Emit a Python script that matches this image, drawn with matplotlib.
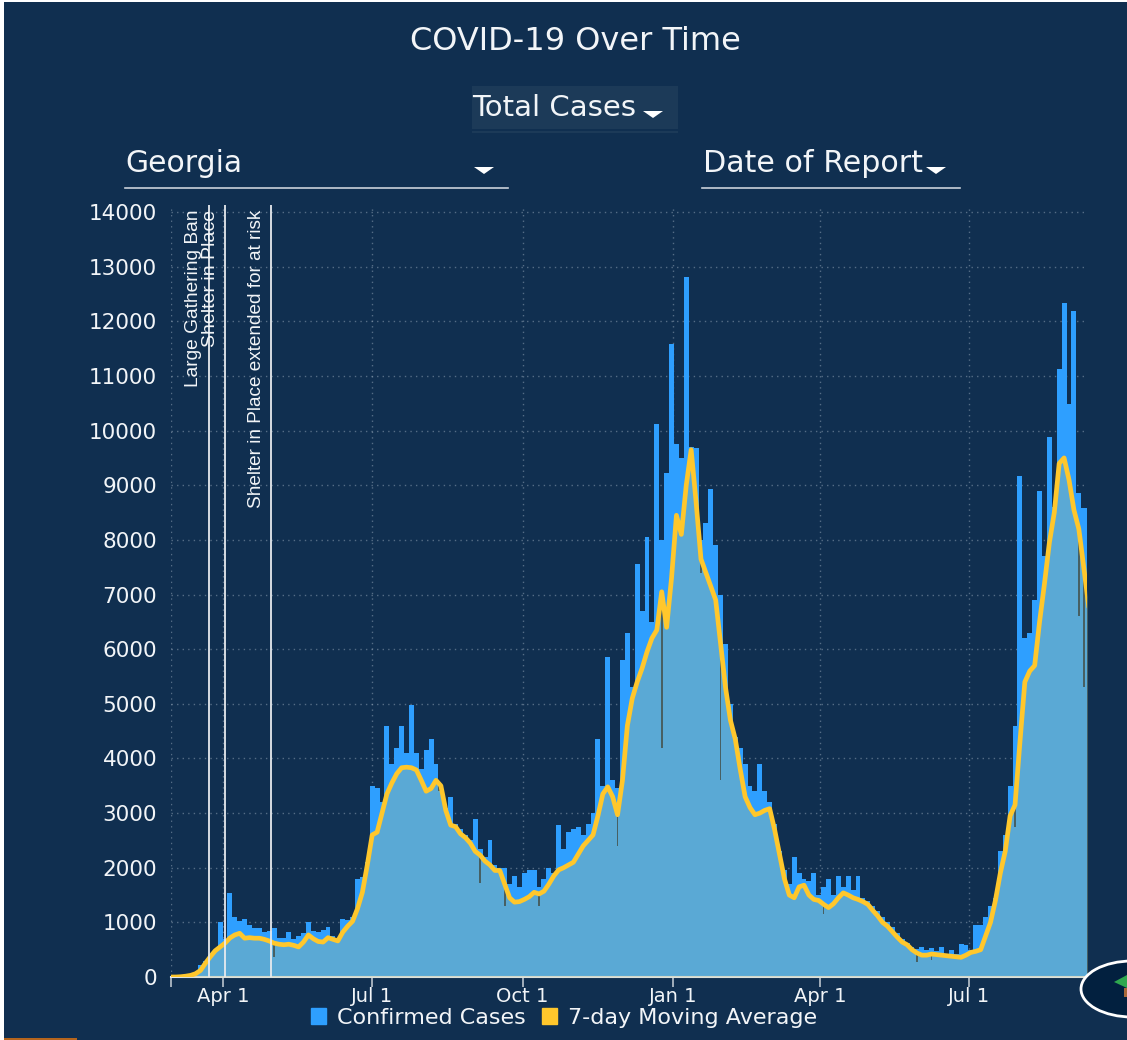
"""COVID-19 Over Time: Georgia, casos confirmados y media movil de 7 dias."""
import matplotlib
matplotlib.use("Agg")
import matplotlib.pyplot as plt
import pandas as pd
from matplotlib.patches import Ellipse, Patch, Polygon, Rectangle

W, H = 1127, 1040
BG = "#102F50"
TXT = "#F2F5F8"

# valores, un dato cada 3 dias desde 2020-02-29
cases = [0, 0, 5, 20, 40, 80, 220, 300, 400, 490, 1000, 700, 1540, 1100, 1020, 1060,
         950, 900, 900, 830, 850, 900, 710, 720, 830, 700, 750, 800, 1000, 850, 830, 860,
         910, 750, 700, 1060, 1050, 1100, 1800, 1830, 2100, 3500, 3450, 3200, 4600, 3900, 4200, 4600,
         4100, 4980, 4100, 3800, 4150, 4350, 3900, 3400, 3100, 3300, 2800, 2700, 2600, 2500, 2900, 2350,
         2200, 2500, 2050, 2000, 2000, 1700, 1850, 1650, 1900, 1950, 1950, 1650, 1800, 2000, 1900, 2780,
         2350, 2650, 2700, 2750, 2600, 2800, 3000, 4350, 3500, 5850, 3600, 3450, 5800, 6300, 5300, 7560,
         6700, 8050, 6500, 10130, 8000, 9230, 11590, 9760, 9500, 12820, 9700, 9680, 8000, 8300, 8930, 7900,
         7000, 6100, 5000, 4400, 4200, 3900, 3500, 3400, 3900, 3400, 3200, 2800, 2300, 1950, 1700, 2200,
         1900, 1800, 1750, 1900, 1500, 1650, 1800, 1500, 1850, 1650, 1850, 1600, 1850, 1450, 1400, 1300,
         1200, 1100, 1000, 920, 800, 700, 630, 550, 520, 550, 500, 530, 480, 540, 430, 500,
         430, 600, 590, 500, 950, 960, 1100, 1300, 1450, 2300, 2600, 3500, 4600, 9170, 6200, 6300,
         6900, 8900, 7700, 9890, 8600, 11130, 12340, 10490, 12180, 8860, 8590, 8590]
moving_avg = [0, 0, 5, 15, 30, 60, 120, 250, 370, 480, 550, 620, 714, 770, 800, 710,
              720, 710, 710, 690, 660, 620, 600, 590, 600, 580, 550, 640, 770, 700, 650, 640,
              720, 690, 660, 820, 930, 1020, 1250, 1550, 2050, 2600, 2650, 3000, 3350, 3550, 3720, 3830,
              3840, 3830, 3790, 3600, 3400, 3450, 3600, 3500, 3050, 2780, 2750, 2620, 2550, 2450, 2300, 2230,
              2120, 2050, 1950, 1950, 1700, 1450, 1370, 1380, 1420, 1470, 1550, 1520, 1570, 1700, 1850, 1960,
              2000, 2050, 2100, 2250, 2400, 2500, 2600, 2950, 3350, 3480, 3300, 2970, 3600, 4600, 5100, 5400,
              5650, 5950, 6200, 6350, 7050, 6400, 7300, 8450, 8100, 9000, 9650, 8700, 7650, 7400, 7150, 6900,
              6100, 5300, 4700, 4350, 3800, 3300, 3100, 2970, 3000, 3050, 3080, 2700, 2250, 1800, 1500, 1450,
              1650, 1680, 1500, 1420, 1400, 1330, 1270, 1340, 1450, 1540, 1500, 1450, 1420, 1380, 1330, 1220,
              1120, 1000, 930, 830, 730, 640, 590, 500, 440, 400, 400, 420, 410, 400, 390, 380,
              370, 360, 400, 450, 470, 500, 750, 1000, 1400, 1900, 2300, 2950, 3150, 4300, 5400, 5600,
              5700, 6500, 7200, 7950, 8500, 9400, 9500, 9100, 8550, 8200, 7500, 6800]
dates = pd.date_range("2020-02-29", periods=len(cases), freq="3D")

# dias puntuales con caida fuerte: indice del dato y valor bajo
dip_bins = [21, 63, 68, 75, 91, 100, 108, 112, 133, 152, 155, 172, 185, 186, 187]
dip_lows = [370, 1720, 1300, 1300, 2400, 4200, 7400, 3600, 1150, 280, 310, 2750, 6600, 5300, 4700]

month_ticks = ["2020-02-29", "2020-04-01", "2020-07-01", "2020-10-01", "2021-01-01", "2021-04-01", "2021-07-01"]
month_labels = ["", "Apr 1", "Jul 1", "Oct 1", "Jan 1", "Apr 1", "Jul 1"]
y_ticks = list(range(0, 14001, 1000))

event_dates = ["2020-03-23", "2020-04-02", "2020-04-30"]
event_labels = ["Large Gathering Ban", "Shelter in Place", "Shelter in Place extended for at risk"]
event_sizes = [13.8, 14, 13.7]

fig = plt.figure(figsize=(W / 100, H / 100), dpi=100, facecolor=BG)

# ---------------- grafico ----------------
ax = fig.add_axes([171 / W, 1 - 977 / H, (1087 - 171) / W, (977 - 205) / H], facecolor="none")
ax.bar(dates, cases, width=3, color="#2E9FFF", lw=0, antialiased=False, zorder=2)
for b, low in zip(dip_bins, dip_lows):
    ax.bar(dates[b], moving_avg[b] - low, bottom=low, width=1, color=BG, lw=0, zorder=2.5)
ax.fill_between(dates, moving_avg, color="#AEBC89", alpha=0.35, lw=0, zorder=3)
ax.plot(dates, moving_avg, color="#FFC72C", lw=3.4, solid_joinstyle="round", zorder=5)

for d, nom, fs in zip(event_dates, event_labels, event_sizes):
    d = pd.Timestamp(d)
    ax.axvline(d, color="#E6EAEE", lw=1.3, zorder=6)
    ax.annotate(nom, (d, 14040), textcoords="offset points", xytext=(-4.5, 0), rotation=90,
                ha="right", va="top", fontsize=fs, color=TXT, family="Liberation Sans", zorder=7)

ax.set_xlim(pd.Timestamp("2020-02-29"), pd.Timestamp("2021-09-11"))
ax.set_ylim(0, 14129)
ax.set_xticks(pd.to_datetime(month_ticks))
ax.set_xticklabels(month_labels, fontsize=14, color=TXT)
ax.set_yticks(y_ticks)
ax.set_yticklabels(y_ticks, fontsize=15.5, color=TXT)
ax.tick_params(axis="x", length=7, width=1.3, color="#AEB9C4", pad=0.5)
ax.tick_params(axis="y", length=0, pad=10)
ax.grid(True, color="#8FA1B3", alpha=0.55, linestyle=(0, (1, 3)), lw=1)
ax.set_axisbelow(True)
ax.spines[["top", "right", "left"]].set_visible(False)
ax.spines["bottom"].set_color("#E6EAEE")
ax.spines["bottom"].set_linewidth(1.5)

handles = [Patch(color="#2E9FFF", label="Confirmed Cases"), Patch(color="#FFC72C", label="7-day Moving Average")]
fig.legend(handles=handles, loc="center", bbox_to_anchor=(564 / W, 1 - 1018 / H), ncol=2, frameon=False,
           fontsize=16, labelcolor=TXT, handlelength=0.7, handleheight=0.7, handletextpad=0.5,
           columnspacing=0.7, borderpad=0)

# ---------------- selectores y marco, en pixeles ----------------
ui = fig.add_axes([0, 0, 1, 1], facecolor="none", zorder=10)
ui.set_xlim(0, W)
ui.set_ylim(H, 0)
ui.axis("off")

ui.add_patch(Rectangle((0, 0), 4, H, color="white", lw=0))
ui.add_patch(Rectangle((0, 0), W, 2, color="white", lw=0))
ui.add_patch(Rectangle((4, 1038), 73, 2, color="#B5651D", lw=0))
ui.add_patch(Rectangle((472, 86), 206, 43, color="#1C3A58", lw=0))
ui.add_patch(Rectangle((472, 131), 206, 2, color="#1C3A58", lw=0))

ui.text(575, 41, "COVID-19 Over Time", fontsize=23, color=TXT, ha="center", va="center")
ui.text(472, 108, "Total Cases", fontsize=21, color=TXT, ha="left", va="center")
ui.text(125, 164, "Georgia", fontsize=21.5, color=TXT, ha="left", va="center")
ui.text(703, 164, "Date of Report", fontsize=21.7, color=TXT, ha="left", va="center")
ui.plot([125, 508], [188, 188], color="#C9D1D9", lw=1.2)
ui.plot([702, 960], [188, 188], color="#C9D1D9", lw=1.2)
for cx, cy in [(653, 114), (484, 170), (936, 170)]:
    ui.add_patch(Polygon([(cx - 10, cy - 3), (cx + 10, cy - 3), (cx, cy + 4)], color="white", lw=0))

ui.add_patch(Ellipse((1132, 989), 102, 56, fc="#02203F", ec="white", lw=2))
ui.add_patch(Polygon([(1114, 982), (1127, 975), (1127, 988)], color="#2FA84F", lw=0))
ui.add_patch(Rectangle((1124, 988), 3, 9, color="#A8693A", lw=0))

fig.savefig("out.png", dpi=100, facecolor=BG)
